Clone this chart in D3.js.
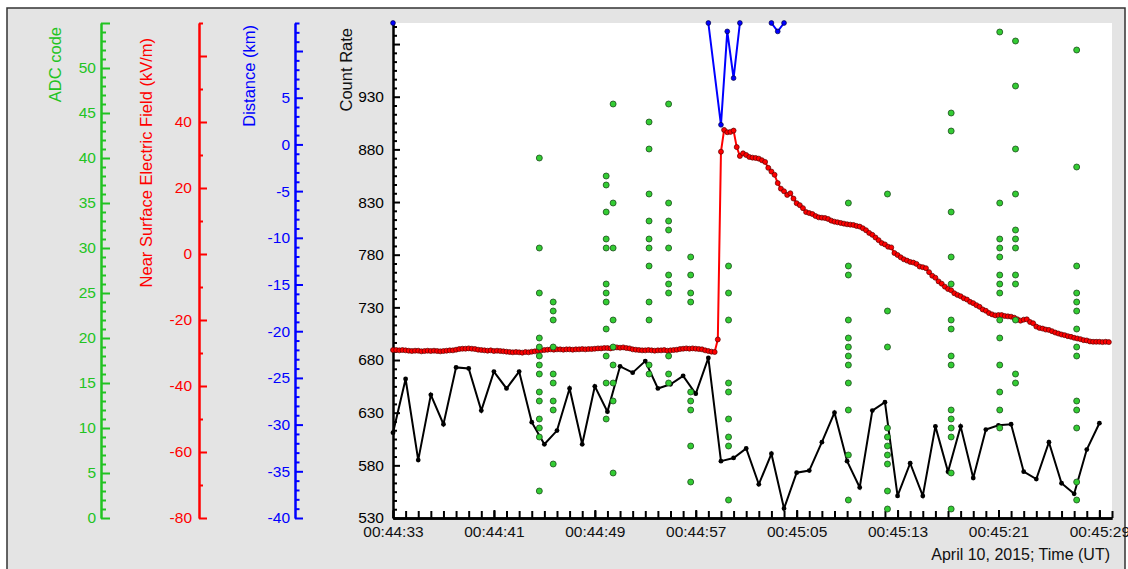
<!DOCTYPE html>
<html>
<head>
<meta charset="utf-8">
<script src="https://cdn.jsdelivr.net/npm/d3@7"></script>
<style>
  html, body { margin: 0; padding: 0; background: #ffffff; }
  svg { display: block; }
  text { font-family: "Liberation Sans", Arial, Helvetica, sans-serif; }
</style>
</head>
<body>
<svg id="chart" width="1128" height="569"></svg>
<script>
// ---- Data (times are seconds after 00:44:00 UT, 10 April 2015) ----

// Count rate, 1 sample per second starting at 00:44:33
const countStartSec = 33;
const countRate = [
  611, 662, 585, 647, 619, 673, 672, 632, 669, 653,
  669, 621, 600, 613, 653, 600, 655, 631, 674, 668,
  679, 653, 657, 665, 648, 682, 584, 587, 596, 562,
  591, 539, 573, 575, 602, 630, 584, 559, 632, 640,
  551, 582, 551, 617, 574, 617, 568, 614, 618, 619,
  574, 567, 602, 563, 553, 595, 620
];

// Near-surface electric field (kV/m), 4 samples per second starting at 00:44:33
const efieldStartSec = 33;
const efieldStepSec = 0.25;
const efieldKV = [
  -29.1, -29.1, -29.2, -29.1,
  -29.2, -29.3, -29.4, -29.3,
  -29.3, -29.5, -29.4, -29.3,
  -29.4, -29.3, -29.4, -29.5,
  -29.4, -29.3, -29.2, -29.2,
  -29.0, -28.8, -28.7, -28.7,
  -28.6, -28.7, -28.8, -29.0,
  -29.1, -29.2, -29.3, -29.2,
  -29.4, -29.3, -29.4, -29.5,
  -29.6, -29.7, -29.8, -29.7,
  -29.8, -29.9, -29.7, -29.8,
  -29.6, -29.5, -29.3, -29.2,
  -29.1, -29.0, -28.9, -29.0,
  -28.9, -28.9, -29.0, -28.9,
  -28.9, -29.0, -28.9, -28.9,
  -28.8, -28.9, -28.8, -28.8,
  -28.7, -28.6, -28.6, -28.5,
  -28.5, -28.6, -28.4, -28.3,
  -28.4, -28.3, -28.5, -28.6,
  -28.9, -29.0, -29.1, -29.2,
  -29.2, -29.1, -29.2, -29.3,
  -29.2, -29.2, -29.1, -29.3,
  -29.2, -29.1, -29.0, -28.8,
  -28.7, -28.6, -28.7, -28.6,
  -28.7, -28.8, -28.9, -29.2,
  -29.4, -29.6, -29.7, -25.9,
   31.0,  37.6,  36.9,  37.0,
   37.4,  32.4,  29.7,  30.5,
   30.0,  29.4,  29.2,  29.1,
   28.9,  28.4,  27.9,  26.1,
   25.0,  24.0,  21.5,  19.8,
   19.0,  17.9,  18.4,  16.8,
   15.4,  14.8,  13.9,  12.7,
   12.4,  12.1,  11.5,  11.1,
   11.0,  10.9,  10.6,  10.1,
    9.8,   9.6,   9.4,   9.2,
    9.0,   8.9,   8.8,   8.5,
    8.3,   7.8,   7.2,   6.4,
    5.8,   5.0,   4.2,   3.3,
    2.9,   2.2,   2.0,   0.3,
   -0.3,  -1.0,  -1.6,  -2.0,
   -2.4,  -2.6,  -3.0,  -3.8,
   -4.0,  -4.3,  -5.5,  -6.6,
   -7.2,  -8.3,  -9.0,  -9.9,
  -10.6, -11.0, -11.9, -12.4,
  -12.8, -13.4, -13.8, -14.5,
  -14.9, -15.5, -16.0, -16.8,
  -17.2, -17.9, -18.3, -18.6,
  -18.5, -18.5, -18.8, -18.9,
  -19.0, -19.3, -19.8, -20.2,
  -19.9, -19.8, -20.6, -21.0,
  -22.0, -22.4, -22.6, -22.9,
  -23.0, -23.4, -23.8, -24.1,
  -24.4, -24.6, -24.9, -25.1,
  -25.4, -25.6, -25.8, -26.1,
  -26.2, -26.5, -26.6, -26.6,
  -26.6, -26.7, -26.6, -26.7
];

// Lightning distance (km); null breaks the line
const distanceSec = [33, 34, 58, 59, 59.5, 60, 60.5, 61, 63, 63.5, 64];
const distanceKm  = [13, null, 13, 2.1, 12.1, 7.1, 13, null, 13, 12.1, 13];

// ADC codes recorded at each burst time
const adcSec = [44.6, 45.7, 49.9, 50.45, 53.3, 54.85, 56.6, 59.6, 69.1, 72.2, 77.25, 81.1, 82.35, 87.2];
const adcCodes = [
  [40, 30, 25, 20, 19, 18, 17, 16, 14, 13, 11, 10, 9, 3],
  [24, 23, 22, 19, 16, 15, 13, 12, 6],
  [38, 37, 34, 31, 30, 26, 25, 24, 21, 18, 15, 11],
  [46, 35, 30, 22, 19, 17, 15, 13, 5],
  [44, 41, 36, 33, 31, 30, 28, 24, 22, 17, 16],
  [46, 35, 33, 32, 30, 27, 26, 25, 18, 16, 15],
  [29, 27, 25, 24, 14, 13, 12, 8, 4],
  [28, 25, 22, 15, 14, 11, 9, 8, 2],
  [35, 28, 27, 22, 20, 19, 18, 17, 15, 12, 7, 2],
  [36, 23, 19, 10, 9, 8, 7, 6, 3, 1],
  [45, 43, 34, 29, 26, 22, 21, 18, 17, 12, 11, 10, 9, 5, 1],
  [54, 35, 31, 30, 29, 27, 26, 25, 22, 20, 17, 14, 12, 10],
  [53, 48, 41, 36, 32, 31, 30, 27, 26, 22, 16, 15],
  [52, 39, 28, 25, 24, 23, 21, 19, 18, 13, 12, 10, 4, 2]
];

// Axis labelling
const timeLabelSec = [33, 41, 49, 57, 65, 73, 81, 89];
const xAxisTitle = "April 10, 2015; Time (UT)";

// ---- Layout ----
const plot = { left: 393, right: 1112, top: 23, bottom: 518 };
const base = Date.UTC(2015, 3, 10, 0, 44, 0);
const toDate = s => new Date(base + s * 1000);

const x = d3.scaleUtc().domain([toDate(33), toDate(90)]).range([plot.left, plot.right]);
const yCount = d3.scaleLinear().domain([530, 1000]).range([plot.bottom, plot.top]);
const yAdc = d3.scaleLinear().domain([0, 55]).range([plot.bottom, plot.top]);
const yField = d3.scaleLinear().domain([-80, 70]).range([plot.bottom, plot.top]);
const yDist = d3.scaleLinear().domain([-40, 13]).range([plot.bottom, plot.top]);

const GREEN = "#22c322", RED = "#ff0000", BLUE = "#0000ff", BLACK = "#000000";

const svg = d3.select("#chart");

// Window background and frame
svg.append("rect").attr("x", 7).attr("y", 8).attr("width", 1118).attr("height", 575)
  .attr("fill", "#e4e4e4").attr("stroke", "#333").attr("stroke-width", 1.5);
svg.append("rect").attr("x", plot.left).attr("y", plot.top)
  .attr("width", plot.right - plot.left).attr("height", plot.bottom - plot.top)
  .attr("fill", "#ffffff");

// Generic vertical axis: ticks point right, labels on the left
function sideAxis(xPos, scale, majors, minors, labelMax, color, majorLen, minorLen, pad, fontSize) {
  const g = svg.append("g").attr("transform", `translate(${xPos},0)`);
  g.append("g").call(d3.axisLeft(scale).tickValues(minors).tickSizeInner(-minorLen)
    .tickSizeOuter(0).tickFormat(""));
  g.append("g").call(d3.axisLeft(scale).tickValues(majors).tickSizeInner(-majorLen)
    .tickSizeOuter(0).tickPadding(pad).tickFormat(d => (d <= labelMax ? String(d) : "")));
  g.selectAll("path.domain").attr("stroke", color).attr("stroke-width", 2);
  g.selectAll(".tick line").attr("stroke", color).attr("stroke-width", 2);
  g.selectAll(".tick text").attr("fill", color).attr("font-size", fontSize)
    .attr("font-family", "'Liberation Sans', Arial, sans-serif");
  return g;
}

// ADC code axis
sideAxis(101, yAdc, d3.range(0, 56, 5), d3.range(0, 56, 1).filter(v => v % 5 !== 0),
  50, GREEN, 9, 5, 5, 15.5);
// Electric field axis
sideAxis(199, yField, d3.range(-80, 61, 20), d3.range(-70, 71, 20),
  40, RED, 8, 4, 7, 15.5);
// Distance axis
sideAxis(295, yDist, d3.range(-40, 11, 5), d3.range(-40, 14, 1).filter(v => v % 5 !== 0),
  5, BLUE, 8, 4.5, 5, 15.5);
// Count rate axis
sideAxis(plot.left, yCount, d3.range(530, 1000, 50),
  d3.range(0, 57).map(k => 530 + k * 50 / 6).filter(v => v <= 1000 && Math.abs((v - 530) % 50) > 0.01 && Math.abs((v - 530) % 50 - 50) > 0.01),
  930, BLACK, 7, 4, 9, 15.5);

// Time axis
const gx = svg.append("g").attr("transform", `translate(0,${plot.bottom})`);
gx.append("g").call(d3.axisBottom(x).tickValues(d3.range(33, 91, 1).map(toDate))
  .tickSizeInner(-7).tickSizeOuter(0).tickFormat(""));
gx.append("g").call(d3.axisBottom(x).tickValues(timeLabelSec.map(toDate))
  .tickSizeInner(-8).tickSizeOuter(0).tickPadding(8).tickFormat(d3.utcFormat("%H:%M:%S")));
gx.selectAll("path.domain").attr("stroke", BLACK).attr("stroke-width", 2.5);
gx.selectAll(".tick line").attr("stroke", BLACK).attr("stroke-width", 2);
gx.selectAll(".tick text").attr("fill", "#111").attr("font-size", 15.5)
  .attr("font-family", "'Liberation Sans', Arial, sans-serif");

svg.append("text").attr("x", 1110).attr("y", 560).attr("text-anchor", "end")
  .attr("font-size", 16).attr("fill", "#111").text(xAxisTitle);

// Vertical axis titles
const titles = [
  { text: "ADC code", x: 61, y: 27, color: GREEN },
  { text: "Near Surface Electric Field (kV/m)", x: 152, y: 38, color: RED },
  { text: "Distance (km)", x: 255, y: 25, color: BLUE },
  { text: "Count Rate", x: 352, y: 28, color: "#111" }
];
titles.forEach(t => {
  svg.append("text").attr("transform", `translate(${t.x},${t.y}) rotate(-90)`)
    .attr("text-anchor", "end").attr("font-size", 16.5).attr("fill", t.color).text(t.text);
});

// ---- Series ----
const countPts = countRate.map((v, i) => ({ t: toDate(countStartSec + i), v }));
const fieldPts = efieldKV.map((v, i) => ({ t: toDate(efieldStartSec + i * efieldStepSec), v }));
const distPts = distanceSec.map((s, i) => ({ t: toDate(s), v: distanceKm[i] }));
const adcPts = adcSec.flatMap((s, i) => adcCodes[i].map(c => ({ t: toDate(s), v: c })));

// Electric field
svg.append("path").datum(fieldPts)
  .attr("d", d3.line().x(d => x(d.t)).y(d => yField(d.v)))
  .attr("fill", "none").attr("stroke", RED).attr("stroke-width", 2);
svg.append("g").selectAll("circle").data(fieldPts).join("circle")
  .attr("cx", d => x(d.t)).attr("cy", d => yField(d.v)).attr("r", 2.5)
  .attr("fill", RED).attr("stroke", "#5a0000").attr("stroke-width", 0.7);

// Count rate
svg.append("path").datum(countPts)
  .attr("d", d3.line().x(d => x(d.t)).y(d => yCount(d.v)))
  .attr("fill", "none").attr("stroke", BLACK).attr("stroke-width", 2);
svg.append("g").selectAll("circle").data(countPts).join("circle")
  .attr("cx", d => x(d.t)).attr("cy", d => yCount(d.v)).attr("r", 2.4)
  .attr("fill", BLACK);

// Distance
svg.append("path").datum(distPts)
  .attr("d", d3.line().defined(d => d.v !== null).x(d => x(d.t)).y(d => yDist(d.v)))
  .attr("fill", "none").attr("stroke", BLUE).attr("stroke-width", 2);
svg.append("g").selectAll("circle").data(distPts.filter(d => d.v !== null)).join("circle")
  .attr("cx", d => x(d.t)).attr("cy", d => yDist(d.v)).attr("r", 2.4)
  .attr("fill", BLUE).attr("stroke", "#000044").attr("stroke-width", 0.7);

// ADC codes
svg.append("g").selectAll("circle").data(adcPts).join("circle")
  .attr("cx", d => x(d.t)).attr("cy", d => yAdc(d.v)).attr("r", 3)
  .attr("fill", "#33cc33").attr("stroke", "#1d4d1d").attr("stroke-width", 0.8);
</script>
</body>
</html>
